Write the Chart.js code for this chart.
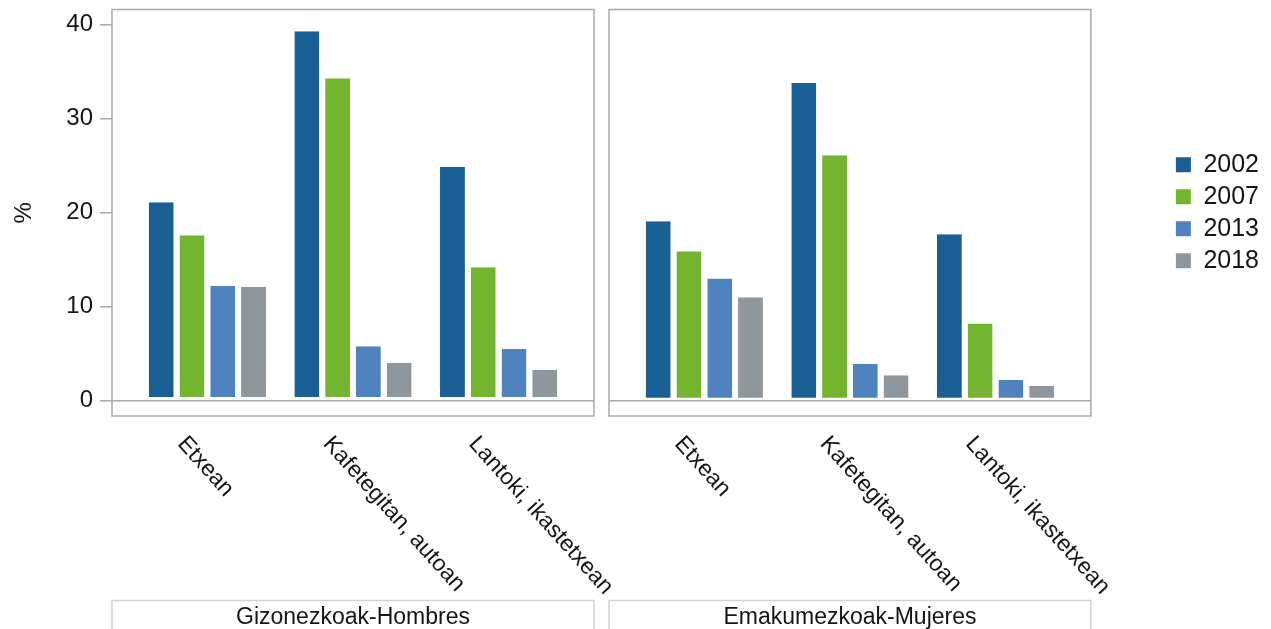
<!DOCTYPE html>
<html>
<head>
<meta charset="utf-8">
<script src="https://cdn.jsdelivr.net/npm/chart.js@4.4.1/dist/chart.umd.min.js"></script>
<style>
  html, body { margin: 0; padding: 0; background: #fff; }
  #wrap { position: relative; width: 1271px; height: 629px; overflow: hidden; }
  #menChart { position: absolute; left: 0; top: 0; }
  #womenChart { position: absolute; left: 600px; top: 0; }
</style>
</head>
<body>
<div id="wrap">
  <canvas id="menChart" width="640" height="629"></canvas>
  <canvas id="womenChart" width="671" height="629"></canvas>
</div>
<script>
// ============================
// Data
// ============================
const categories = ["Etxean", "Kafetegitan, autoan", "Lantoki, ikastetxean"];
const years = ["2002", "2007", "2013", "2018"];
const panelTitles = ["Gizonezkoak-Hombres", "Emakumezkoak-Mujeres"];
const yTicks = [0, 10, 20, 30, 40];

const men2002 = [21.1, 39.3, 24.9];
const men2007 = [17.6, 34.3, 14.2];
const men2013 = [12.2, 5.8, 5.5];
const men2018 = [12.1, 4.0, 3.3];

const women2002 = [19.1, 33.8, 17.7];
const women2007 = [15.9, 26.1, 8.2];
const women2013 = [13.0, 3.9, 2.2];
const women2018 = [11.0, 2.7, 1.6];

const yearColors = ["#185f95", "#74b52f", "#4f83bf", "#8e969e"];

const FONT = "'Liberation Sans', Arial, Helvetica, sans-serif";
const TEXT = "#151515";
const FRAME = "#a9a9a9";
Chart.defaults.font.family = FONT;
Chart.defaults.color = TEXT;

// ============================
// Helpers
// ============================
function makeDatasets(seriesList) {
  return seriesList.map((values, i) => ({
    label: years[i],
    data: values.map((v, idx) => ({ x: idx, y: v })),
    backgroundColor: yearColors[i],
    borderColor: "#ffffff",
    borderWidth: { top: 0, left: 0, right: 0, bottom: 3 },
    borderSkipped: false,
    categoryPercentage: 0.845,
    barPercentage: 0.81,
  }));
}

function xScale() {
  return {
    type: "linear",
    display: false,
    offset: false,
    min: -0.655,
    max: 2.655,
    afterBuildTicks: (s) => {
      s.ticks = categories.map((c, i) => ({ value: i }));
    },
  };
}

const Y_MIN = -1.63;
const Y_MAX = 41.62;

// panel frame, zero line, slanted category labels and the strip below
const panelDecor = {
  id: "panelDecor",
  afterDatasetsDraw(chart, args, opts) {
    const { ctx, chartArea: a, scales } = chart;
    ctx.save();
    ctx.strokeStyle = FRAME;
    ctx.lineWidth = 1.5;
    const y0 = scales.y.getPixelForValue(0);
    ctx.beginPath();
    ctx.moveTo(a.left, y0);
    ctx.lineTo(a.right, y0);
    ctx.stroke();
    ctx.strokeRect(a.left, a.top, a.right - a.left, a.bottom - a.top);

    ctx.fillStyle = TEXT;
    ctx.font = "23px " + FONT;
    ctx.textAlign = "left";
    ctx.textBaseline = "middle";
    categories.forEach((c, i) => {
      const x = scales.x.getPixelForValue(i);
      ctx.save();
      ctx.translate(x - 26, a.bottom + 24);
      ctx.rotate((48 * Math.PI) / 180);
      ctx.fillText(c, 0, 0);
      ctx.restore();
    });

    const stripTop = a.bottom + 184.5;
    ctx.strokeStyle = "#d2d2d2";
    ctx.strokeRect(a.left, stripTop, a.right - a.left, 60);
    ctx.font = "23px " + FONT;
    ctx.textAlign = "center";
    ctx.fillText(opts.title, (a.left + a.right) / 2, stripTop + 17);
    ctx.restore();
  },
};

// ============================
// Left panel (men)
// ============================
new Chart(document.getElementById("menChart"), {
  type: "bar",
  data: { datasets: makeDatasets([men2002, men2007, men2013, men2018]) },
  plugins: [panelDecor],
  options: {
    responsive: false,
    animation: false,
    layout: { padding: { top: 9.5, bottom: 213, left: 0, right: 46 } },
    plugins: {
      legend: { display: false },
      tooltip: { enabled: false },
      panelDecor: { title: panelTitles[0] },
    },
    scales: {
      x: xScale(),
      y: {
        min: Y_MIN,
        max: Y_MAX,
        afterBuildTicks: (s) => {
          s.ticks = yTicks.map((v) => ({ value: v }));
        },
        afterFit: (s) => {
          s.width = 112;
          s.paddingTop = 0;
          s.paddingBottom = 0;
        },
        grid: { drawOnChartArea: false, drawTicks: true, tickLength: 12, color: FRAME, lineWidth: 1.5 },
        border: { display: false },
        ticks: { padding: 7, color: TEXT, font: { size: 24 } },
        title: { display: true, text: "%", color: TEXT, font: { size: 24 }, padding: { top: 10, bottom: 0 } },
      },
    },
  },
});

// ============================
// Right panel (women) + legend
// ============================
new Chart(document.getElementById("womenChart"), {
  type: "bar",
  data: { datasets: makeDatasets([women2002, women2007, women2013, women2018]) },
  plugins: [panelDecor],
  options: {
    responsive: false,
    animation: false,
    layout: { padding: { top: 9.5, bottom: 213, left: 9, right: 2 } },
    plugins: {
      tooltip: { enabled: false },
      panelDecor: { title: panelTitles[1] },
      legend: {
        position: "right",
        align: "center",
        labels: {
          boxWidth: 15,
          boxHeight: 15,
          padding: 7,
          color: TEXT,
          font: { size: 25 },
          generateLabels: (chart) =>
            Chart.defaults.plugins.legend.labels
              .generateLabels(chart)
              .map((l) => ({ ...l, lineWidth: 0 })),
        },
      },
    },
    scales: {
      x: xScale(),
      y: {
        display: false,
        min: Y_MIN,
        max: Y_MAX,
      },
      gap: {
        type: "linear",
        position: "right",
        display: true,
        afterFit: (s) => {
          s.width = 78;
        },
        ticks: { display: false },
        grid: { display: false },
        border: { display: false },
      },
    },
  },
});
</script>
</body>
</html>
